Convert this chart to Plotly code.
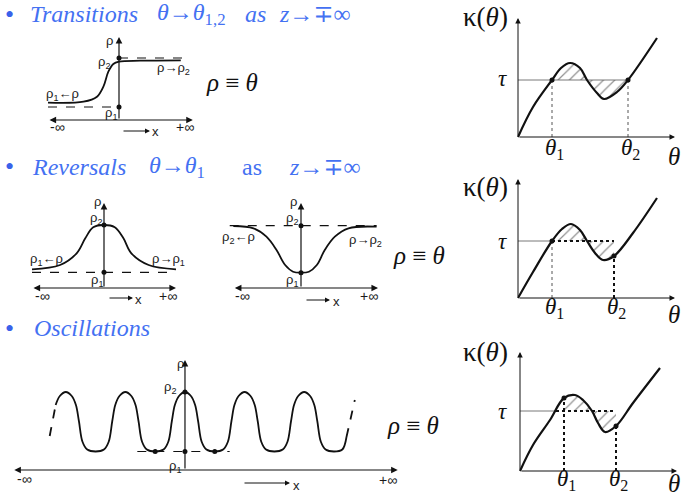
import plotly.graph_objects as go

W, H = 685, 498

# ---------------- data ----------------
# transition sketch: x across the axis, rho level
trans_x = [-1.0, -0.5, -0.31, -0.22, -0.15, -0.08, 0.0, 0.3, 0.87]
trans_rho = [1.73, 1.83, 2.33, 3.33, 4.83, 5.6, 5.83, 5.93, 5.97]
trans_rho1, trans_rho2 = 1.3, 6.2

# reversal sketches (bump and dip)
bump_x = [-1.0, -0.61, -0.38, -0.26, -0.15, 0.0, 0.15, 0.27, 0.38, 0.62, 1.0]
bump_rho = [1.87, 2.3, 3.47, 4.97, 6.07, 6.3, 6.07, 4.97, 3.47, 2.3, 1.87]
bump_rho1, bump_rho2 = 1.57, 6.3

dip_x = [-0.94, -0.66, -0.48, -0.34, -0.22, -0.11, 0.0, 0.11, 0.22, 0.33, 0.47, 0.66, 1.05]
dip_rho = [6.2, 5.97, 5.13, 3.8, 2.3, 1.63, 1.53, 1.63, 2.3, 3.8, 5.13, 5.97, 6.13]
dip_rho1, dip_rho2 = 1.53, 6.23

# oscillation sketch (x in periods, peak at 0)
osc_x = [-2.17, -2.1, -2.0, -1.9, -1.83, -1.78, -1.72, -1.64, -1.5,
         -1.36, -1.28, -1.22, -1.17, -1.1, -1.0, -0.9, -0.83, -0.78, -0.72, -0.64, -0.5,
         -0.36, -0.28, -0.22, -0.17, -0.1, 0.0, 0.1, 0.17, 0.22, 0.28, 0.36, 0.5,
         0.64, 0.72, 0.78, 0.83, 0.9, 1.0, 1.1, 1.17, 1.22, 1.28, 1.36, 1.5,
         1.64, 1.72, 1.78, 1.83, 1.9, 2.0, 2.1, 2.17, 2.22, 2.28, 2.36, 2.5,
         2.64, 2.71]
osc_rho = [6.5, 7.4, 7.8, 7.4, 6.5, 4.9, 2.83, 2.05, 1.85,
           2.05, 2.83, 4.9, 6.5, 7.4, 7.8, 7.4, 6.5, 4.9, 2.83, 2.05, 1.85,
           2.05, 2.83, 4.9, 6.5, 7.4, 7.8, 7.4, 6.5, 4.9, 2.83, 2.05, 1.85,
           2.05, 2.83, 4.9, 6.5, 7.4, 7.8, 7.4, 6.5, 4.9, 2.83, 2.05, 1.85,
           2.05, 2.83, 4.9, 6.5, 7.4, 7.8, 7.4, 6.5, 4.9, 2.83, 2.05, 1.85,
           2.05, 3.3]
osc_left_x, osc_left_rho = [-2.27, -2.22, -2.17], [3.4, 4.9, 6.5]
osc_right_x, osc_right_rho = [2.71, 2.78, 2.85], [3.3, 5.2, 7.0]
osc_rho1, osc_rho2 = 1.85, 7.8
osc_touch_x = [-0.5, 0.0, 0.5]

# kappa(theta) curves
k1_theta = [0, 1.5, 3.4, 4.3, 5.2, 6.2, 6.9, 7.9, 8.6, 9.9, 11.0, 13.9]
k1_kappa = [0, 3.0, 5.7, 6.9, 7.4, 6.9, 5.7, 4.4, 3.8, 4.5, 5.7, 9.9]
k1_tau, k1_t1, k1_t2 = 5.7, 3.4, 11.0

k2_theta = [0, 1.5, 3.4, 4.4, 5.3, 6.2, 6.9, 7.7, 8.5, 9.6, 11.5, 13.9]
k2_kappa = [0, 2.6, 5.7, 6.9, 7.4, 6.8, 5.7, 4.5, 3.8, 4.2, 6.5, 10.0]
k2_tau, k2_t1, k2_t2 = 5.7, 3.4, 9.6

k3_theta = [0, 1.3, 3.0, 4.4, 5.5, 6.3, 7.2, 7.8, 8.5, 9.6, 11.3, 14.0]
k3_kappa = [0, 2.6, 5.1, 7.3, 7.6, 7.1, 6.0, 4.8, 3.9, 4.5, 6.8, 10.3]
k3_tau, k3_t1, k3_t2, k3_cross = 6.0, 4.4, 9.6, 3.6

BLUE = "#4471f2"
INK = "#111111"
SERIF = "Liberation Serif, Times New Roman, DejaVu Serif, serif"
SANS = "Liberation Sans, Arial, sans-serif"

fig = go.Figure()
annotations = []


def place(n, px0, px1, xr, py_bot, py_top, yr):
    s = "" if n == 1 else str(n)
    fig.layout["xaxis" + s] = dict(domain=[px0 / W, px1 / W], range=xr, visible=False,
                                   anchor="y" + s, fixedrange=True)
    fig.layout["yaxis" + s] = dict(domain=[1 - py_bot / H, 1 - py_top / H], range=yr,
                                   visible=False, anchor="x" + s, fixedrange=True)
    return "x" + s, "y" + s


def line(ax, x, y, width=1.8, dash="solid", shape="linear", color=INK):
    fig.add_trace(go.Scatter(x=x, y=y, mode="lines", xaxis=ax[0], yaxis=ax[1],
                             line=dict(color=color, width=width, dash=dash, shape=shape),
                             hoverinfo="skip", showlegend=False))


def dots(ax, x, y, size=5):
    fig.add_trace(go.Scatter(x=x, y=y, mode="markers", xaxis=ax[0], yaxis=ax[1],
                             marker=dict(color=INK, size=size), cliponaxis=False,
                             hoverinfo="skip", showlegend=False))


def arrow(ax, x0, y0, x1, y1, both=False, width=1.2):
    annotations.append(dict(xref=ax[0], yref=ax[1], axref=ax[0], ayref=ax[1],
                            x=x1, y=y1, ax=x0, ay=y0, text="", showarrow=True,
                            arrowhead=2, arrowsize=1.1, arrowwidth=width,
                            arrowcolor=INK, arrowside="end+start" if both else "end"))


def x_arrow(px0, px1, py):
    # little "---> x" direction arrow under a sketch
    annotations.append(dict(xref="paper", yref="paper", x=px1 / W, y=1 - py / H,
                            ax=px0 - px1, ay=0, axref="pixel", ayref="pixel",
                            text="", showarrow=True, arrowhead=2, arrowsize=1,
                            arrowwidth=1, arrowcolor=INK))


def label(text, x, y, size=13, family=SANS, color="#1a1a1a", xanchor="center"):
    annotations.append(dict(xref="paper", yref="paper", x=x / W, y=1 - y / H,
                            text=text, showarrow=False, xanchor=xanchor, yanchor="middle",
                            font=dict(size=size, family=family, color=color)))


def hatch(ax, theta, kappa, t1, t2, tau):
    i, j = theta.index(t1), theta.index(t2)
    fig.add_trace(go.Scatter(x=[t1, t2], y=[tau, tau], mode="lines", xaxis=ax[0],
                             yaxis=ax[1], line=dict(width=0), hoverinfo="skip",
                             showlegend=False))
    fig.add_trace(go.Scatter(x=theta[i:j + 1], y=kappa[i:j + 1], mode="lines",
                             xaxis=ax[0], yaxis=ax[1], fill="tonexty",
                             fillcolor="rgba(0,0,0,0)",
                             fillpattern=dict(shape="/", fgcolor="#222", bgcolor="rgba(0,0,0,0)",
                                              size=8, solidity=0.15),
                             line=dict(width=0, shape="spline"), hoverinfo="skip",
                             showlegend=False))


# ---------------- sketches ----------------
# transitions
aT = place(1, 44.45, 197.1, [-1.05, 1.1], 125, 30, [-0.5, 9])
line(aT, [0, 0.99], [trans_rho2, trans_rho2], width=1.2, dash="dash")
line(aT, [-1.0, 0], [trans_rho1, trans_rho1], width=1.2, dash="dash")
line(aT, trans_x, trans_rho, shape="spline")
dots(aT, [0, 0], [trans_rho1, trans_rho2])
arrow(aT, 0, 0, 0, 8.3)
arrow(aT, -1.0, 0, 1.04, 0, both=True)
label("ρ", 109, 40)
label("ρ<sub>2</sub>", 104, 62)
label("ρ<sub>1</sub>←ρ", 63, 94)
label("ρ→ρ<sub>2</sub>", 174, 68)
label("ρ<sub>1</sub>", 111, 114)
label("-∞", 57, 127, size=14)
label("+∞", 185, 127, size=14)
label("x", 155, 132)
x_arrow(122, 150, 131)

# reversals: bump
aR1 = place(2, 24.8, 183.2, [-1.1, 1.1], 293, 198, [-0.5, 9])
line(aR1, [-1.0, 1.0], [bump_rho1, bump_rho1], width=1.2, dash="dash")
line(aR1, bump_x, bump_rho, shape="spline")
dots(aR1, [0, 0], [bump_rho1, bump_rho2])
arrow(aR1, 0, 0, 0, 8.5)
arrow(aR1, -1.0, 0, 1.0, 0, both=True)
label("ρ", 98, 201)
label("ρ<sub>2</sub>", 96, 219)
label("ρ<sub>1</sub>←ρ", 46, 259)
label("ρ→ρ<sub>1</sub>", 168, 259)
label("ρ<sub>1</sub>", 97, 280)
label("-∞", 42, 296, size=14)
label("+∞", 168, 296, size=14)
label("x", 138, 299)
x_arrow(108, 133, 298)

# reversals: dip
aR2 = place(3, 221.8, 383.8, [-1.1, 1.15], 293, 198, [-0.5, 9])
line(aR2, [-0.99, 1.05], [dip_rho2, dip_rho2], width=1.2, dash="dash")
line(aR2, dip_x, dip_rho, shape="spline")
dots(aR2, [0, 0], [dip_rho1, dip_rho2])
arrow(aR2, 0, 0, 0, 8.5)
arrow(aR2, -0.94, 0, 1.07, 0, both=True)
label("ρ", 293, 201)
label("ρ<sub>2</sub>", 292, 219)
label("ρ<sub>2</sub>←ρ", 238, 238)
label("ρ→ρ<sub>2</sub>", 366, 240)
label("ρ<sub>1</sub>", 292, 280)
label("-∞", 243, 296, size=14)
label("+∞", 369, 296, size=14)
label("x", 336, 301)
x_arrow(305, 330, 300)

# oscillations
aO = place(4, 6.2, 402.5, [-3, 3.65], 475, 355, [-0.5, 11.5])
line(aO, [-0.8, 0.75], [osc_rho1, osc_rho1], width=1.2, dash="dash")
line(aO, osc_x, osc_rho, shape="spline")
line(aO, osc_left_x, osc_left_rho, dash="dash")
line(aO, osc_right_x, osc_right_rho, dash="dash")
dots(aO, osc_touch_x + [0], [osc_rho1] * 3 + [osc_rho2])
arrow(aO, 0, 0, 0, 11.0)
arrow(aO, -2.89, 0, 3.57, 0, both=True)
label("ρ", 180, 363)
label("ρ<sub>2</sub>", 170, 387)
label("ρ<sub>1</sub>", 175, 466)
label("-∞", 25, 479, size=14)
label("+∞", 388, 480, size=14)
label("x", 296, 485)
x_arrow(243, 290, 483)

# rho == theta
for yy, xx in [(83, 232), (255, 419), (425, 413)]:
    label("<i>ρ</i> ≡ <i>θ</i>", xx, yy, size=25, family=SERIF, color=INK)

# ---------------- kappa(theta) panels ----------------
kpanels = [
    (5, 513, 683, 142, 12, k1_theta, k1_kappa, k1_tau, k1_t1, k1_t2, 17, 79, 149, 157),
    (6, 513, 683, 303, 173, k2_theta, k2_kappa, k2_tau, k2_t1, k2_t2, 187, 241, 308, 314),
    (7, 515, 685, 476, 346, k3_theta, k3_kappa, k3_tau, k3_t1, k3_t2, 352, 411, 480, 483),
]
for n, px0, px1, pyb, pyt, th, ka, tau, t1, t2, y_k, y_tau, y_t, y_th in kpanels:
    ak = place(n, px0, px1, [-0.5, 16.5], pyb, pyt, [-0.5, 12.5])
    hatch(ak, th, ka, t1, t2, tau)
    ia, ib = th.index(t1), th.index(t2)
    if n == 5:
        line(ak, [0, t2], [tau, tau], width=0.8, color="#555")
        line(ak, [t1, t1], [0, tau], width=1, dash="dot", color="#555")
        line(ak, [t2, t2], [0, tau], width=1, dash="dot", color="#555")
    elif n == 6:
        line(ak, [0, t1], [tau, tau], width=0.8, color="#555")
        line(ak, [t1, t2], [tau, tau], width=2, dash="dot")
        line(ak, [t1, t1], [0, tau], width=1, dash="dot", color="#555")
        line(ak, [t2, t2], [0, ka[ib]], width=2, dash="dot")
    else:
        line(ak, [0, k3_cross], [tau, tau], width=0.8, color="#555")
        line(ak, [k3_cross, t2], [tau, tau], width=2, dash="dot")
        line(ak, [t1, t1], [0, ka[ia]], width=2, dash="dot")
        line(ak, [t2, t2], [0, ka[ib]], width=2, dash="dot")
    line(ak, th, ka, width=2.2, shape="spline")
    dots(ak, [t1, t2], [ka[ia], ka[ib]], size=5)
    arrow(ak, 0, 0, 0, 11.9, width=1)
    arrow(ak, 0, 0, 15.7, 0, width=1)
    xo = 518 if n != 7 else 520
    label("κ(<i>θ</i>)", 485, y_k, size=27, family=SERIF, color=INK)
    label("<i>τ</i>", 502, y_tau, size=23, family=SERIF, color=INK)
    label("<i>θ</i><sub>1</sub>", xo + t1 * 10 + 2, y_t, size=23, family=SERIF, color=INK)
    label("<i>θ</i><sub>2</sub>", xo + t2 * 10 + 2, y_t, size=23, family=SERIF, color=INK)
    label("<i>θ</i>", 674, y_th, size=25, family=SERIF, color=INK)

# ---------------- headings ----------------
for yy in (14, 167, 328):
    label("•", 9, yy, size=26, family=SERIF, color="#3a62ea")
heads = [
    ("<i>Transitions</i>", 28, 14), ("<i>θ</i>→<i>θ</i><sub>1,2</sub>", 155, 14),
    ("<i>as</i>", 243, 14), ("<i>z</i>→∓∞", 277, 14),
    ("<i>Reversals</i>", 30, 167), ("<i>θ</i>→<i>θ</i><sub>1</sub>", 147, 167),
    ("as", 240, 167), ("<i>z</i>→∓∞", 287, 167),
    ("<i>Oscillations</i>", 32, 328),
]
for txt, xx, yy in heads:
    label(txt, xx, yy, size=24, family=SERIF, color=BLUE, xanchor="left")

fig.update_layout(width=W, height=H, margin=dict(l=0, r=0, t=0, b=0),
                  paper_bgcolor="white", plot_bgcolor="white",
                  showlegend=False, annotations=annotations)
# the page's default body margin would shift the whole drawing by 8px
fig.write_html("out.html", config={"displayModeBar": False},
               post_script="document.body.style.margin='0';")
